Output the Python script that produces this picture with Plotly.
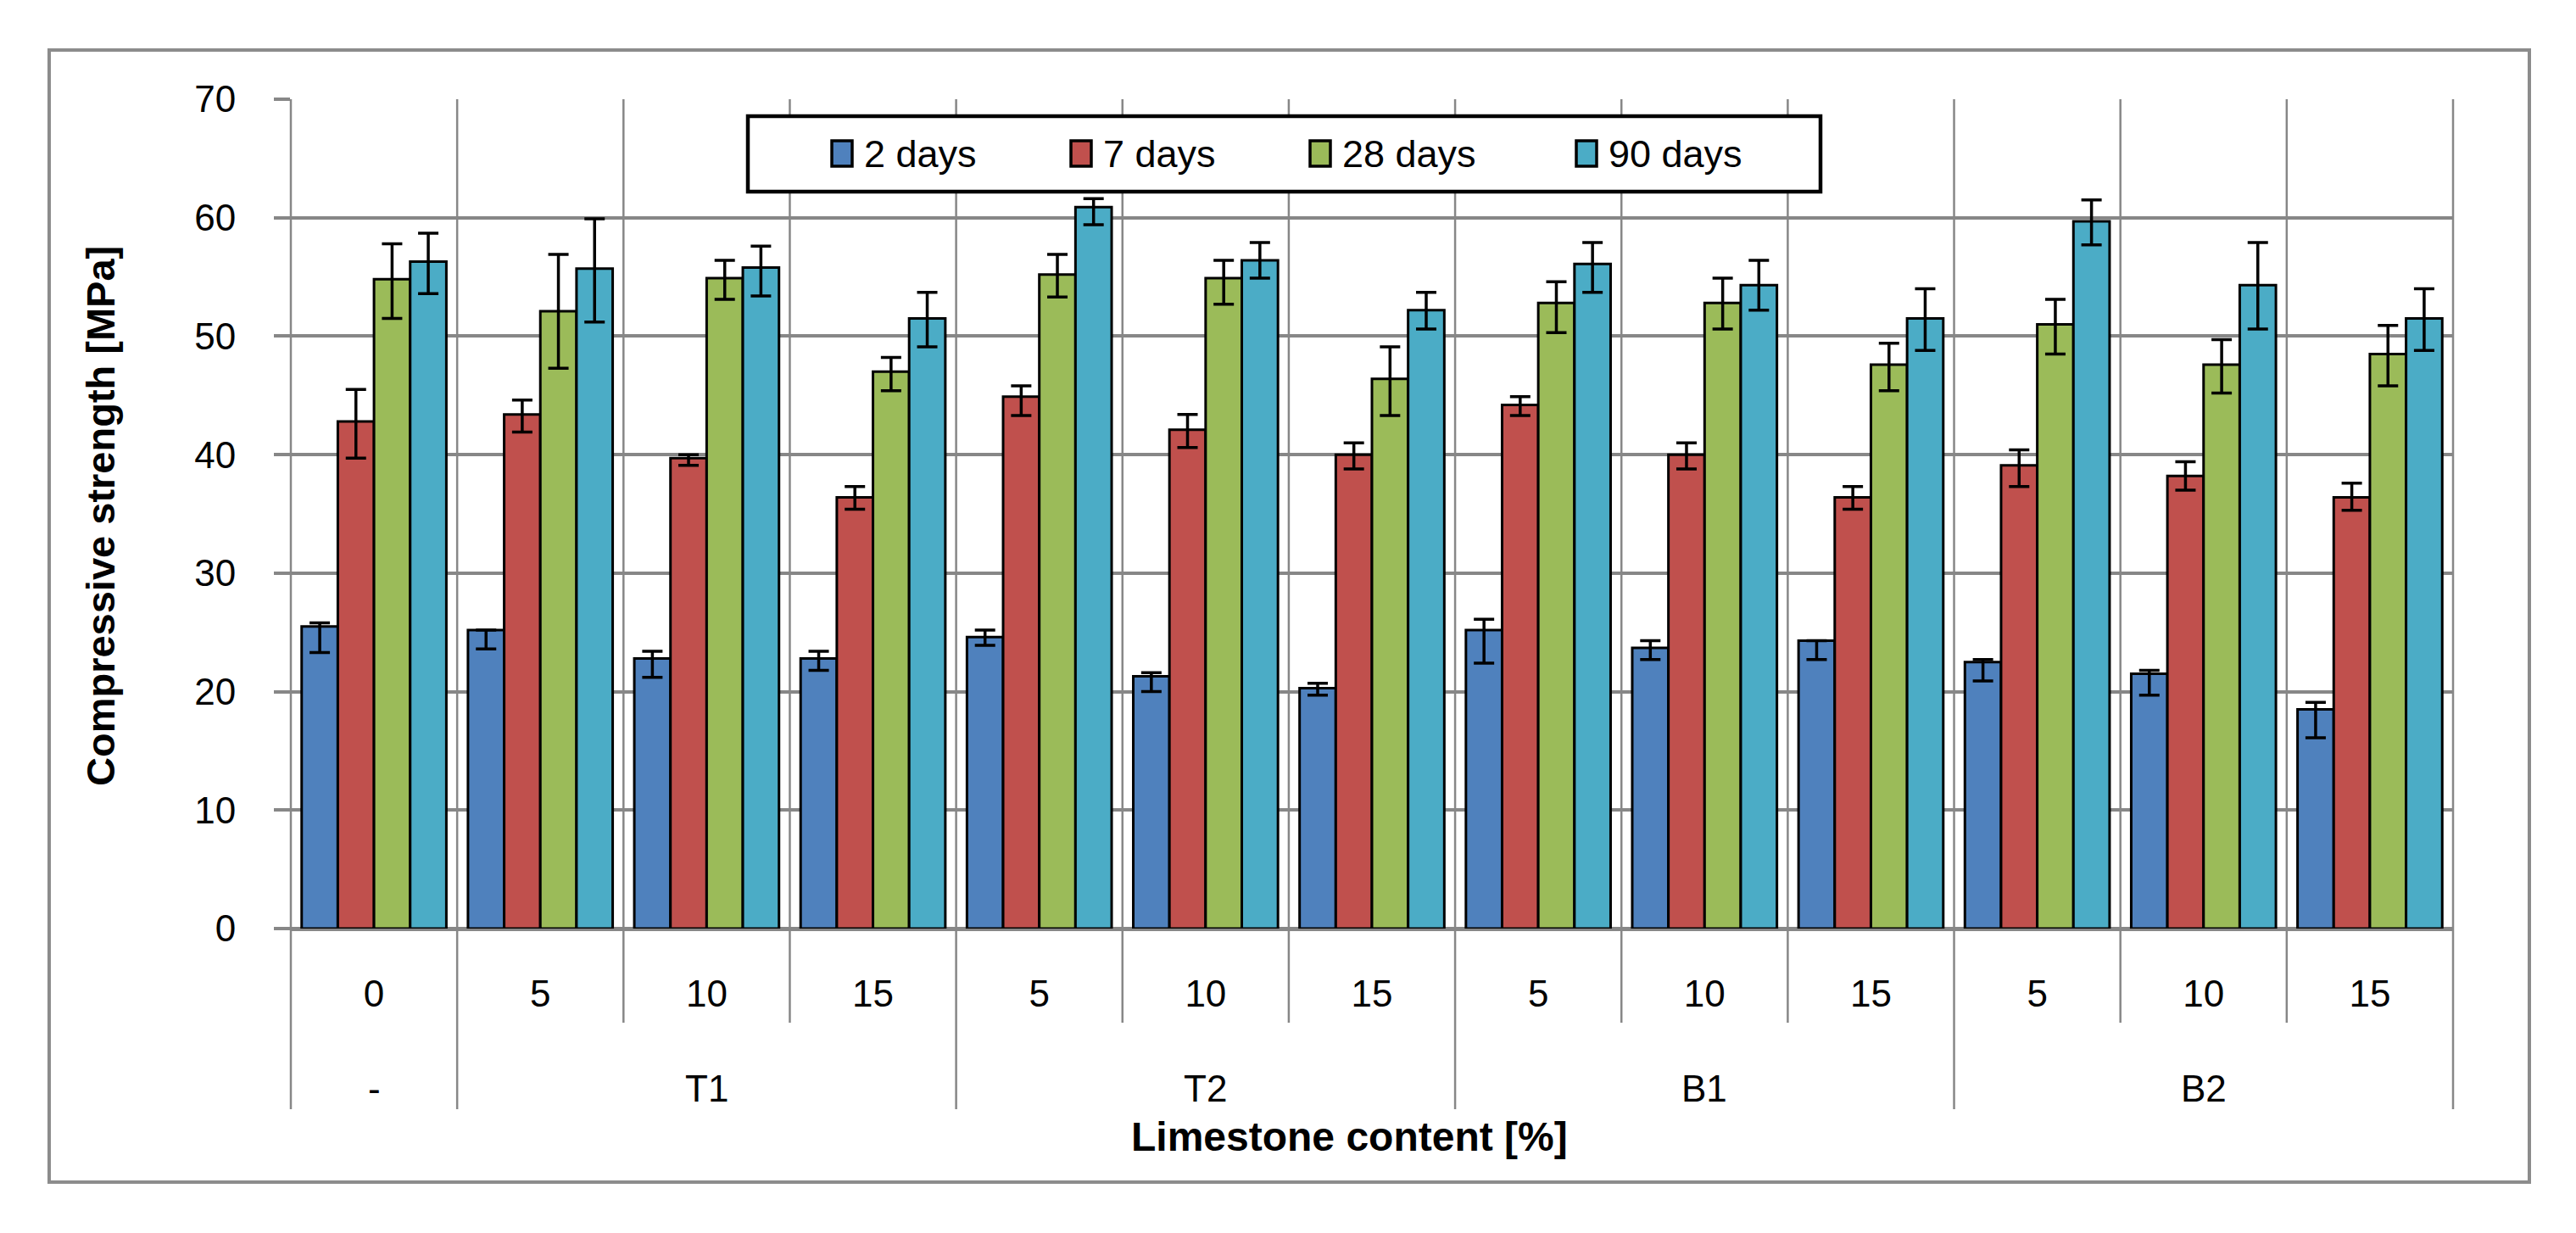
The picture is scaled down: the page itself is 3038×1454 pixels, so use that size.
import plotly.graph_objects as go

# ---------------- data ----------------
groups = ["-", "T1", "T1", "T1", "T2", "T2", "T2", "B1", "B1", "B1", "B2", "B2", "B2"]
categories = ["0", "5", "10", "15", "5", "10", "15", "5", "10", "15", "5", "10", "15"]
series_names = ["2 days", "7 days", "28 days", "90 days"]

d2 = [25.5, 25.2, 22.8, 22.8, 24.6, 21.3, 20.3, 25.2, 23.7, 24.3, 22.5, 21.5, 18.5]
d2_hi = [25.8, 25.2, 23.4, 23.4, 25.2, 21.6, 20.7, 26.1, 24.3, 24.3, 22.7, 21.8, 19.1]
d2_lo = [23.3, 23.6, 21.2, 21.8, 23.9, 20.0, 19.7, 22.4, 22.7, 22.7, 20.9, 19.7, 16.1]

d7 = [42.8, 43.4, 39.7, 36.4, 44.9, 42.1, 40.0, 44.2, 40.0, 36.4, 39.1, 38.2, 36.4]
d7_hi = [45.5, 44.6, 40.0, 37.3, 45.8, 43.4, 41.0, 44.9, 41.0, 37.3, 40.4, 39.4, 37.6]
d7_lo = [39.7, 41.9, 39.1, 35.4, 43.3, 40.6, 38.8, 43.3, 38.8, 35.4, 37.3, 37.0, 35.3]

d28 = [54.8, 52.1, 54.9, 47.0, 55.2, 54.9, 46.4, 52.8, 52.8, 47.6, 51.0, 47.6, 48.5]
d28_hi = [57.8, 56.9, 56.4, 48.2, 56.9, 56.4, 49.1, 54.6, 54.9, 49.4, 53.1, 49.7, 50.9]
d28_lo = [51.5, 47.3, 53.1, 45.4, 53.3, 52.7, 43.3, 50.3, 50.6, 45.4, 48.5, 45.2, 45.8]

d90 = [56.3, 55.7, 55.8, 51.5, 60.9, 56.4, 52.2, 56.1, 54.3, 51.5, 59.7, 54.3, 51.5]
d90_hi = [58.7, 59.9, 57.6, 53.7, 61.6, 57.9, 53.7, 57.9, 56.4, 54.0, 61.5, 57.9, 54.0]
d90_lo = [53.6, 51.2, 53.4, 49.1, 59.4, 54.9, 50.6, 53.7, 52.2, 48.8, 57.7, 50.6, 48.8]

y_ticks = [0, 10, 20, 30, 40, 50, 60, 70]
y_title = "Compressive strength [MPa]"
x_title = "Limestone content [%]"

# ---------------- style ----------------
colors = ["#4F81BD", "#C0504D", "#9BBB59", "#4BACC6"]
FONT = "Liberation Sans, Arial, sans-serif"
GRID = "#878787"
W, H = 3038, 1454
L, R, T, B = 335, 2885, 109, 1087


def px_x(x):
    return (x - L) / (R - L)


def px_y(y):
    return (B - y) / (B - T)


values = [d2, d7, d28, d90]
his = [d2_hi, d7_hi, d28_hi, d90_hi]
los = [d2_lo, d7_lo, d28_lo, d90_lo]
xs = list(range(len(categories)))

fig = go.Figure()
for name, v, hi, lo, c in zip(series_names, values, his, los, colors):
    fig.add_trace(go.Bar(
        x=xs, y=v, name=name,
        marker=dict(color=c, line=dict(color="black", width=3)),
        error_y=dict(type="data", symmetric=False,
                     array=[h - a for h, a in zip(hi, v)],
                     arrayminus=[a - l for a, l in zip(v, lo)],
                     color="black", thickness=3.5, width=12),
        showlegend=False,
    ))

shapes = []
n = len(categories)
# boundaries between categories
group_bounds = {0, n}
for i in range(1, n):
    if groups[i] != groups[i - 1]:
        group_bounds.add(i)
for b in range(n + 1):
    y0 = px_y(1300) if b in group_bounds else px_y(1198)
    shapes.append(dict(type="line", xref="paper", yref="paper",
                       x0=b / n, x1=b / n, y0=y0, y1=1,
                       line=dict(color=GRID, width=2.5), layer="below"))

# outer chart frame
shapes.append(dict(type="rect", xref="paper", yref="paper",
                   x0=px_x(50), x1=px_x(2975), y0=px_y(1386), y1=px_y(51),
                   line=dict(color="#8C8C8C", width=4), layer="below"))

annotations = []
# group labels
seen = []
for g in groups:
    if g not in seen:
        seen.append(g)
for g in seen:
    idx = [i for i, gg in enumerate(groups) if gg == g]
    annotations.append(dict(x=sum(idx) / len(idx), xref="x", y=px_y(1275), yref="paper",
                            text=g, showarrow=False, xanchor="center", yanchor="middle",
                            font=dict(family=FONT, size=44, color="black")))

# axis titles
annotations.append(dict(x=px_x(1583), xref="paper", y=px_y(1333), yref="paper",
                        text="<b>" + x_title + "</b>", showarrow=False,
                        xanchor="center", yanchor="middle",
                        font=dict(family=FONT, size=48, color="black")))
annotations.append(dict(x=px_x(110), xref="paper", y=px_y(600), yref="paper",
                        text="<b>" + y_title + "</b>", showarrow=False, textangle=-90,
                        xanchor="center", yanchor="middle",
                        font=dict(family=FONT, size=47, color="black")))

# legend (manual)
shapes.append(dict(type="rect", xref="paper", yref="paper",
                   x0=px_x(874), x1=px_x(2139), y0=px_y(218), y1=px_y(129),
                   line=dict(color="black", width=4.5), fillcolor="white", layer="above"))
sw_x = [973, 1255, 1537, 1851]
ly = 173
for name, c, sx in zip(series_names, colors, sw_x):
    shapes.append(dict(type="rect", xref="paper", yref="paper",
                       x0=px_x(sx), x1=px_x(sx + 24), y0=px_y(ly + 15), y1=px_y(ly - 15),
                       line=dict(color="black", width=3.5), fillcolor=c, layer="above"))
    annotations.append(dict(x=px_x(sx + 36), xref="paper", y=px_y(ly), yref="paper",
                            text=name, showarrow=False, xanchor="left", yanchor="middle",
                            font=dict(family=FONT, size=45, color="black")))

fig.update_layout(
    width=W, height=H,
    margin=dict(l=L, r=W - R, t=T, b=H - B, pad=0),
    paper_bgcolor="white", plot_bgcolor="white",
    barmode="group", bargap=0.13, bargroupgap=0,
    font=dict(family=FONT, size=44, color="black"),
    shapes=shapes, annotations=annotations,
    xaxis=dict(range=[-0.5, n - 0.5], tickvals=xs, ticktext=categories,
               showgrid=False, zeroline=False, showline=False, ticks="",
               ticklabelstandoff=47,
               tickfont=dict(family=FONT, size=44, color="black")),
    yaxis=dict(range=[0, 70], tickvals=y_ticks, showgrid=True, gridcolor=GRID, gridwidth=3.5,
               zeroline=True, zerolinecolor=GRID, zerolinewidth=4.5,
               showline=False, ticks="outside", ticklen=19, tickwidth=3.5, tickcolor=GRID,
               ticklabelstandoff=36,
               tickfont=dict(family=FONT, size=44, color="black")),
)

fig.write_html("out.html")
